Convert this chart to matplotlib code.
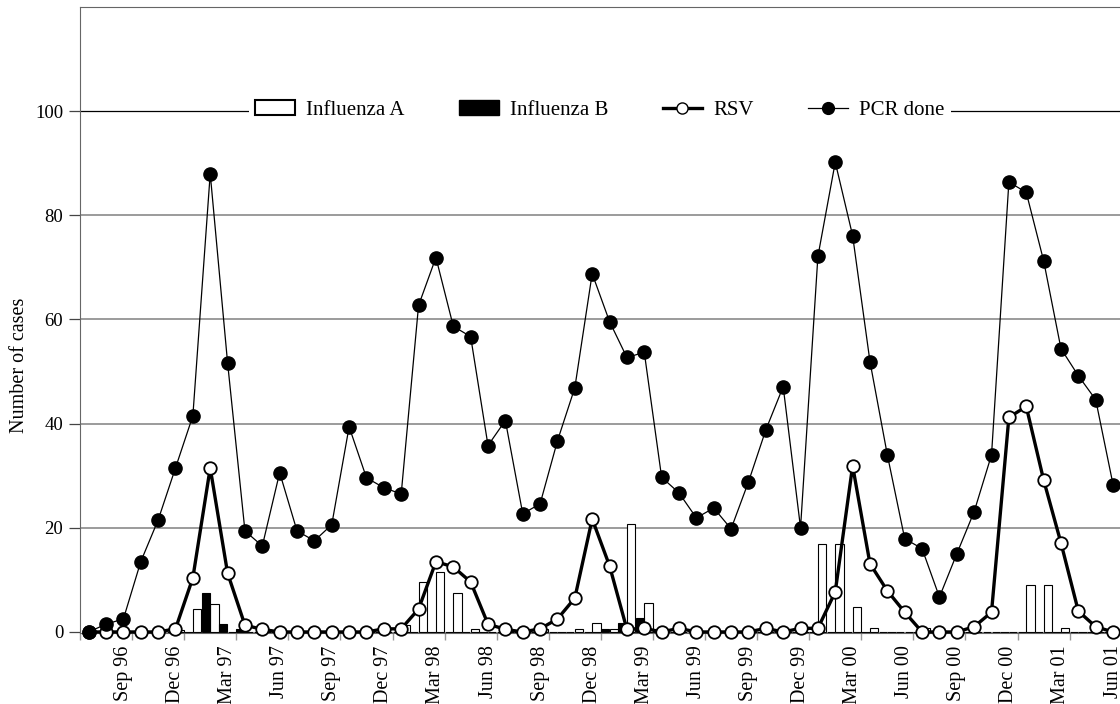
import numpy as np
import matplotlib
matplotlib.use('Agg')
import matplotlib.pyplot as plt
from matplotlib.patches import Patch
from matplotlib.lines import Line2D

plt.rcParams['font.family'] = ['Liberation Serif', 'DejaVu Serif']

# monthly data, Jul 96 .. Jun 01 (60 months)
pcr_done = [0, 1.5, 2.5, 13.5, 21.5, 31.5, 41.5, 88, 51.7, 19.4,
            16.5, 30.6, 19.4, 17.5, 20.6, 39.4, 29.6, 27.7, 26.5, 62.7,
            71.9, 58.7, 56.7, 35.8, 40.6, 22.7, 24.6, 36.7, 46.9, 68.8,
            59.6, 52.7, 53.7, 29.7, 26.7, 21.9, 23.8, 19.8, 28.8, 38.8,
            47.1, 20.0, 72.1, 90.2, 76.1, 51.9, 34.0, 17.9, 16.0, 6.7,
            15.0, 23.1, 34.0, 86.4, 84.4, 71.3, 54.4, 49.2, 44.6, 28.3]
rsv = [0, 0, 0, 0, 0, 0.6, 10.4, 31.5, 11.3, 1.3,
       0.5, 0, 0, 0, 0, 0, 0, 0.6, 0.6, 4.4,
       13.5, 12.5, 9.6, 1.5, 0.5, 0, 0.6, 2.5, 6.5, 21.7,
       12.7, 0.5, 0.7, 0, 0.7, 0, 0, 0, 0, 0.7,
       0, 0.7, 0.7, 7.7, 31.9, 13.1, 7.9, 3.8, 0, 0,
       0, 1.0, 3.8, 41.2, 43.3, 29.2, 17.1, 4.0, 1.0, 0]
flu_a = [0, 0, 0, 0, 0, 0.4, 4.4, 5.4, 0, 0,
         0, 0, 0, 0, 0, 0, 0, 0, 1.3, 9.6,
         11.5, 7.5, 0.6, 0, 0, 0, 0.6, 0, 0.6, 1.7,
         0.6, 20.8, 5.6, 0, 0, 0, 0, 0, 0, 0,
         0, 0, 16.9, 16.9, 4.8, 0.8, 0, 0, 0.8, 0,
         0, 0, 0, 0, 9.0, 9.0, 0.8, 0, 0, 0]
flu_b = [0, 0, 0, 0, 0, 0, 7.5, 1.5, 0.6, 0,
         0, 0, 0, 0, 0, 0, 0, 0, 0, 0,
         0, 0, 0, 0, 0, 0, 0, 0, 0, 0.6,
         1.8, 2.7, 0, 0, 0, 0, 0, 0, 0, 0,
         0, 0, 0, 0, 0, 0, 0, 0, 0, 0,
         0, 0, 0, 0, 0, 0, 0, 0, 0, 0]
tick_labels = ['Sep 96', 'Dec 96', 'Mar 97', 'Jun 97', 'Sep 97', 'Dec 97',
               'Mar 98', 'Jun 98', 'Sep 98', 'Dec 98', 'Mar 99', 'Jun 99',
               'Sep 99', 'Dec 99', 'Mar 00', 'Jun 00', 'Sep 00', 'Dec 00',
               'Mar 01', 'Jun 01']

x = np.arange(len(pcr_done))

fig = plt.figure(figsize=(11.2, 7.04), dpi=100)
ax = fig.add_axes([80/1120, 71/704, 1 - 80/1120, 626/704])

ax.bar(x, flu_a, width=0.48, align='edge', color='white', edgecolor='black',
       linewidth=0.8, zorder=2)
ax.bar(x + 0.5, flu_b, width=0.48, align='edge', color='black', edgecolor='black',
       linewidth=0.8, zorder=2)
ax.plot(x, rsv, color='black', lw=2.4, marker='o', ms=9, mfc='white', mec='black',
        mew=1.3, zorder=3, clip_on=False)
ax.plot(x, pcr_done, color='black', lw=0.9, marker='o', ms=9.5, mfc='black',
        mec='black', zorder=4, clip_on=False)

ax.set_xlim(-0.46, 59.4)
ax.set_ylim(-0.2, 120)

for v in [20, 40, 60, 80]:
    ax.axhline(v, color='#8a8a8a', lw=1.2, zorder=1)
ax.axhline(100, color='black', lw=0.9, zorder=1)

ax.set_yticks([0, 20, 40, 60, 80, 100])
ax.tick_params(axis='y', labelsize=13.5, length=8, width=0.9, color='#444444', pad=4)
ax.set_xticks(x[2::3])
ax.set_xticklabels(tick_labels, rotation=90, fontsize=14.5)
ax.tick_params(axis='x', length=0, pad=9)
ax.set_xticks(x[2::3] - 2.5, minor=True)
ax.tick_params(axis='x', which='minor', length=5, color='#999999', width=1)

for s in ['left', 'top', 'bottom']:
    ax.spines[s].set_color('#666666')
    ax.spines[s].set_linewidth(0.8)
ax.spines['right'].set_visible(False)

fig.text(20/1120, 1 - 365/704, 'Number of cases', rotation=90, ha='center',
         va='center', fontsize=14.5)

handles = [Patch(facecolor='white', edgecolor='black', linewidth=1.5),
           Patch(facecolor='black', edgecolor='black'),
           Line2D([], [], color='black', lw=2.4, marker='o', ms=8, mfc='white', mec='black'),
           Line2D([], [], color='black', lw=0.9, marker='o', ms=8.5, mfc='black')]
leg = ax.legend(handles, ['Influenza A', 'Influenza B', 'RSV', 'PCR done'],
                loc='center', bbox_to_anchor=(0.5, (100.2 + 0.2) / 120.2),
                ncol=4, fontsize=15, frameon=True, facecolor='white', edgecolor='none',
                framealpha=1, fancybox=False, handlelength=1.9, handletextpad=0.55,
                columnspacing=2.6, borderpad=0.3)
leg.set_zorder(5)

fig.savefig('out.png', dpi=100)
